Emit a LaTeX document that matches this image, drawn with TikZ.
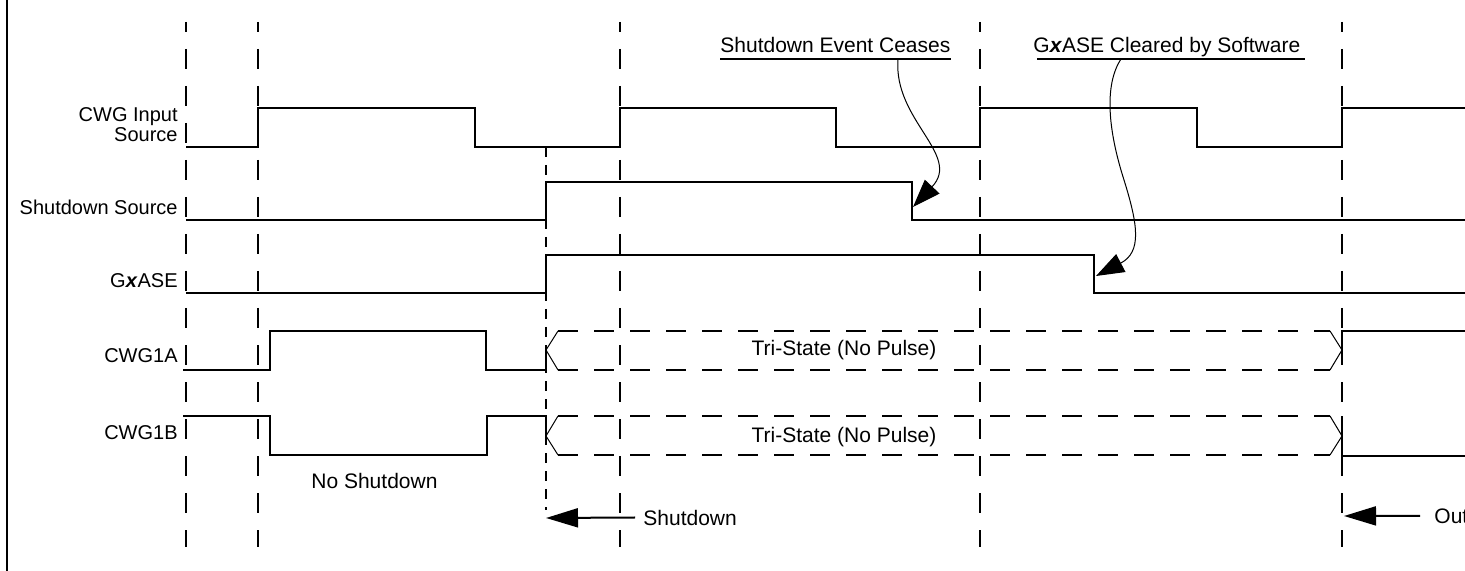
\documentclass[tikz,border=0pt]{standalone}
\usepackage{fontspec}
\setmainfont{Liberation Sans}
\usetikzlibrary{arrows.meta}
\tikzset{
  wave/.style={line width=1.2pt},
  guide/.style={line width=1.2pt,dash pattern=on 10pt off 8.5pt,dash phase=5pt},
  fineguide/.style={line width=1pt,dash pattern=on 5pt off 4pt},
  tristate/.style={line width=1.1pt,dash pattern=on 10pt off 8pt},
  sig/.style={font=\fontsize{10}{10}\selectfont,inner sep=0pt},
  note/.style={font=\fontsize{10.5}{12}\selectfont,inner sep=0pt},
  callout/.style={line width=0.5pt,-{Triangle[length=14pt,width=10pt]}},
  marker/.style={line width=1pt,-{Triangle[length=16pt,width=9.5pt]}}
}

\begin{document}
\begin{tikzpicture}[x=0.5pt,y=-0.5pt]
 \useasboundingbox (0,0) rectangle (1465,571);
 \draw[line width=1.2pt] (7,0) -- (7,571);
 \foreach \g in {186,258,620,980,1342} \draw[guide] (\g,22) -- (\g,547);
 \draw[fineguide] (546,147) -- (546,510);
 % signal names
 \node[sig,anchor=south east,align=right] (lblin) at (178,142) {CWG Input\\Source};
 \node[sig,anchor=base east] (lblsd) at (178,215) {Shutdown Source};
 \node[sig,anchor=base east] (lblase) at (178,288) {G\textbf{\textit{x}}ASE};
 \node[sig,anchor=base east] (lbla) at (178,363) {CWG1A};
 \node[sig,anchor=base east] (lblb) at (178,439) {CWG1B};
 % waveforms
 \draw[wave] (186,147) -| (258,108) -| (475,147) -| (620,108) -| (836,147) -| (980,108) -| (1197,147) -| (1342,108) -- (1465,108);
 \draw[wave] (186,220) -| (546,182) -| (912,220) -- (1465,220);
 \draw[wave] (186,293) -| (546,255) -| (1094,293) -- (1465,293);
 \draw[wave] (183,370) -| (270,331) -| (486,370) -- (546,370) -- (546,350);
 \draw[wave] (183,416) -| (270,455) -| (487,416) -- (546,416) -- (546,436);
 \draw[wave] (1342,350) -- (1342,331) -- (1465,331);
 \draw[wave] (1342,416) -- (1342,456) -- (1465,456);
 % tri-state bands
 \foreach \t/\m/\b in {331/350/370,416/436/455} {
   \draw[tristate] (558,\t) -- (1330,\t) (558,\b) -- (1330,\b);
   \draw[line width=0.5pt] (558,\t) -- (546,\m) -- (558,\b) (1330,\t) -- (1342,\m) -- (1330,\b);
 }
 \node[note,anchor=base] (tria) at (844,356) {Tri-State (No Pulse)};
 \node[note,anchor=base] (trib) at (844,442) {Tri-State (No Pulse)};
 \node[note,anchor=base west] (noshut) at (311,488) {No Shutdown};
 % callouts
 \node[note,anchor=base west] (ceases) at (720,53) {Shutdown Event Ceases};
 \node[note,anchor=base west] (cleared) at (1033,53) {G\textbf{\textit{x}}ASE Cleared by Software};
 \draw[line width=1pt] ([yshift=-3pt]ceases.base west) -- ([yshift=-3pt]ceases.base east);
 \draw[line width=1pt] ([yshift=-3pt,xshift=2pt]cleared.base west) -- ([yshift=-3pt,xshift=2pt]cleared.base east);
 \coordinate (ceasesfrom) at (898,59); \coordinate (ceasesto) at (913,207);
 \coordinate (clearedfrom) at (1121,59); \coordinate (clearedto) at (1096,276);
 \draw[callout] (ceasesfrom) .. controls (893,120) and (962,155) .. (ceasesto);
 \draw[callout] (clearedfrom) .. controls (1104,85) and (1108,130) .. (1124,180) .. controls (1138,225) and (1142,252) .. (clearedto);
 % shutdown / resume markers
 \coordinate (sdedge) at (546,518); \coordinate (resedge) at (1344,516);
 \node[note,anchor=base west,inner xsep=4pt] (sdlbl) at (635,525) {Shutdown};
 \node[note,anchor=base west,inner xsep=7pt] (reslbl) at (1420,523) {Out};
 \draw[marker] (sdlbl.west) -- (sdedge);
 \draw[marker] (reslbl.west) -- (resedge);
\end{tikzpicture}
\end{document}
